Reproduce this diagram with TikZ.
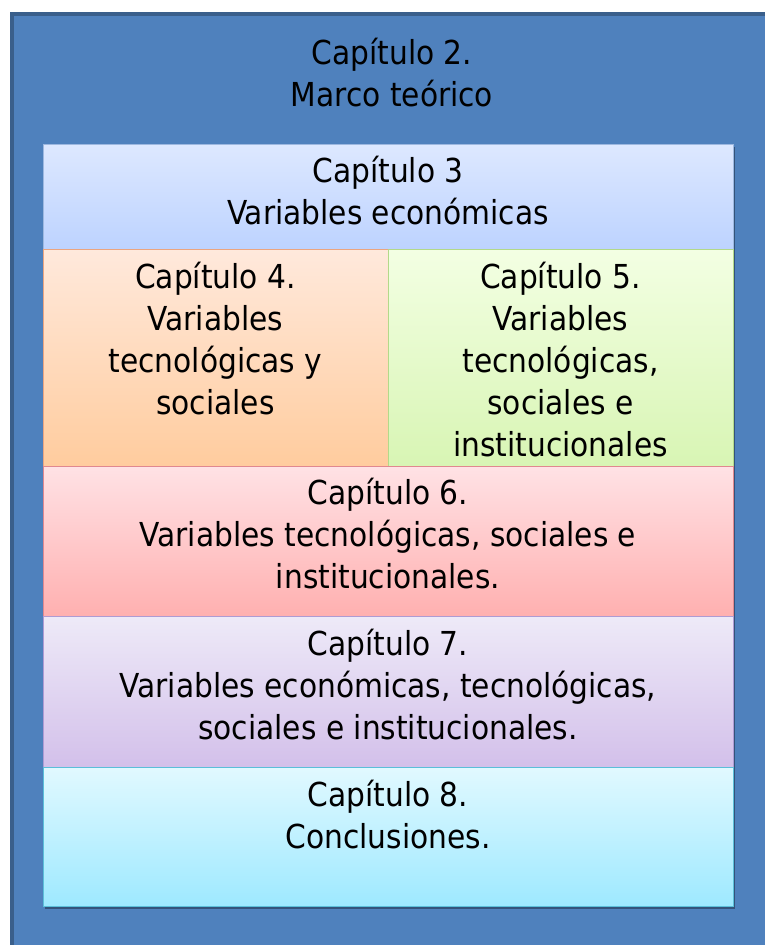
\documentclass[tikz,border=0pt]{standalone}
\usepackage{fontspec}
\setmainfont{DejaVu Sans Condensed}
\usepackage{xcolor}
\usetikzlibrary{positioning,shadows}

\definecolor{outerfill}{HTML}{4F81BD}
\definecolor{outerline}{HTML}{3A5F8B}
\definecolor{econtop}{HTML}{DDE8FF}
\definecolor{econbot}{HTML}{BDD3FF}
\definecolor{econline}{HTML}{9DB8E0}
\definecolor{tecsoctop}{HTML}{FFE9DC}
\definecolor{tecsocbot}{HTML}{FFCC9E}
\definecolor{tecsocline}{HTML}{EBA580}
\definecolor{instatop}{HTML}{F3FFE3}
\definecolor{instabot}{HTML}{D8F5B4}
\definecolor{instaline}{HTML}{B3D98A}
\definecolor{allsixtop}{HTML}{FFE2E5}
\definecolor{allsixbot}{HTML}{FFB0B0}
\definecolor{allsixline}{HTML}{E0888F}
\definecolor{mixtop}{HTML}{EEEAF8}
\definecolor{mixbot}{HTML}{D3C0EA}
\definecolor{mixline}{HTML}{AE9BD3}
\definecolor{conctop}{HTML}{E1F9FF}
\definecolor{concbot}{HTML}{9EE9FF}
\definecolor{concline}{HTML}{5BBFD9}

\begin{document}
\begin{tikzpicture}[
  x=1pt, y=-1pt,
  outer/.style={fill=outerfill, anchor=north west, inner sep=0pt, outer sep=0pt},
  box/.style={draw=#1line, top color=#1top, bottom color=#1bot, line width=1pt, anchor=north west, inner sep=0pt, outer sep=0pt,
    drop shadow={shadow xshift=2pt, shadow yshift=-3pt, opacity=0.35, fill=black}},
  lbl/.style={align=center, inner sep=0pt, font=\fontsize{33}{42}\selectfont}
]
\useasboundingbox (0,0) rectangle (764,945);

\node[outer, minimum width=820pt, minimum height=990pt] (marco) at (10,12) {};
% dark edge on the left and top only
\draw[outerline, line width=4pt] (marco.south west) ++(2pt,0) |- ([yshift=-2pt]marco.north east);
\node[lbl, anchor=north] (marcotxt) at (392,38) {Capítulo 2.\\Marco teórico};

\node[box=econ, minimum width=690pt, minimum height=105pt] (cap3) at (43,144) {};
\node[box=tecsoc, minimum width=345pt, minimum height=217pt] (cap4) at (43,249) {};
\node[box=insta, minimum width=345pt, minimum height=217pt] (cap5) at (388,249) {};
\node[box=allsix, minimum width=690pt, minimum height=150pt] (cap6) at (43,466) {};
\node[box=mix, minimum width=690pt, minimum height=151pt] (cap7) at (43,616) {};
\node[box=conc, minimum width=690pt, minimum height=139pt] (cap8) at (43,767) {};

\node[lbl, below=12pt of cap3.north] (cap3txt) {Capítulo 3\\Variables económicas};
\node[lbl, below=13pt of cap4.north] (cap4txt) {Capítulo 4.\\Variables\\tecnológicas y\\sociales};
\node[lbl, below=13pt of cap5.north] (cap5txt) {Capítulo 5.\\Variables\\tecnológicas,\\sociales e\\institucionales};
\node[lbl, below=12pt of cap6.north] (cap6txt) {Capítulo 6.\\Variables tecnológicas, sociales e\\institucionales.};
\node[lbl, below=13pt of cap7.north] (cap7txt) {Capítulo 7.\\Variables económicas, tecnológicas,\\sociales e institucionales.};
\node[lbl, below=13pt of cap8.north] (cap8txt) {Capítulo 8.\\Conclusiones.};
\end{tikzpicture}
\end{document}
